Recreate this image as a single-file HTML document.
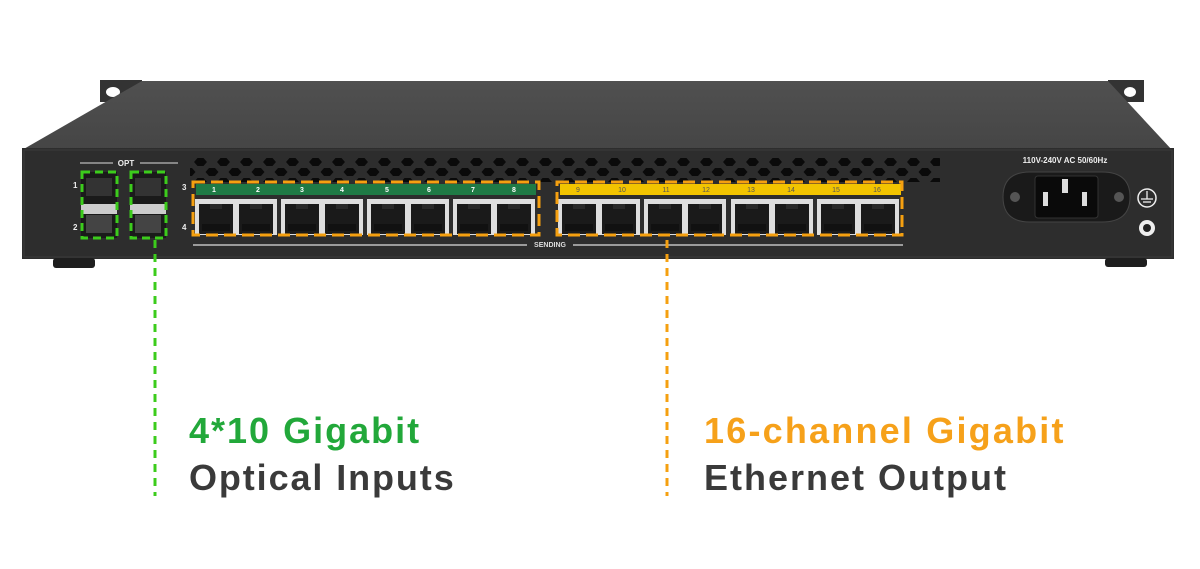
<!DOCTYPE html>
<html><head><meta charset="utf-8"><style>
html,body{margin:0;padding:0;background:#fff;}
svg{display:block}
text{font-family:"Liberation Sans",sans-serif;}
</style></head><body>
<svg width="1200" height="569" viewBox="0 0 1200 569" xmlns="http://www.w3.org/2000/svg">
<defs>
<pattern id="hex" x="190" y="156" width="23" height="20" patternUnits="userSpaceOnUse">
<polygon points="4,6 7.5,2 13.5,2 17,6 13.5,10 7.5,10" fill="#0a0a0a"/>
<polygon points="15.5,16 19,12 25,12 28.5,16 25,20 19,20" fill="#0a0a0a"/>
<polygon points="-7.5,16 -4,12 2,12 5.5,16 2,20 -4,20" fill="#0a0a0a"/>
</pattern>
<linearGradient id="top" x1="0" y1="0" x2="0" y2="1"><stop offset="0" stop-color="#505050"/><stop offset="1" stop-color="#454545"/></linearGradient>
<g id="jack"><rect x="0" y="0" width="34" height="30" fill="#1a1a1a"/><rect x="11" y="0" width="12" height="5" fill="#2a2a2a"/><rect x="3" y="20" width="28" height="7" fill="#111"/></g>
<g id="blk"><rect x="0" y="0" width="82" height="36" fill="#dedede"/><use href="#jack" x="4" y="5"/><use href="#jack" x="44" y="5"/></g>
</defs>
<rect x="100" y="80" width="42" height="22" fill="#333"/><ellipse cx="113" cy="92" rx="7" ry="5" fill="#fff"/>
<rect x="1108" y="80" width="36" height="22" fill="#333"/><ellipse cx="1130" cy="92" rx="6" ry="5" fill="#fff"/>
<polygon points="22,150 142,81 1108,81 1172,150" fill="url(#top)"/>
<rect x="22" y="148" width="1152" height="111" fill="#2d2d2d"/>
<rect x="24" y="150" width="1148" height="107" fill="none" stroke="#3a3a3a"/>
<rect x="53" y="258" width="42" height="10" rx="3" fill="#1e1e1e"/>
<rect x="1105" y="258" width="42" height="9" rx="3" fill="#1e1e1e"/>
<rect x="190" y="156" width="750" height="26" fill="url(#hex)"/>
<line x1="80" y1="163" x2="113" y2="163" stroke="#ddd" stroke-width="1"/>
<line x1="140" y1="163" x2="178" y2="163" stroke="#ddd" stroke-width="1"/>
<text x="126" y="166" font-size="8" font-weight="bold" fill="#eee" text-anchor="middle">OPT</text>
<text x="73" y="188" font-size="8" font-weight="bold" fill="#eee">1</text>
<text x="73" y="230" font-size="8" font-weight="bold" fill="#eee">2</text>
<text x="182" y="190" font-size="8" font-weight="bold" fill="#eee">3</text>
<text x="182" y="230" font-size="8" font-weight="bold" fill="#eee">4</text>
<g>
<rect x="81" y="172" width="36" height="66" fill="#1a1a1a"/><rect x="81" y="204" width="36" height="10" fill="#ccc"/>
<rect x="130" y="172" width="36" height="66" fill="#1a1a1a"/><rect x="130" y="204" width="36" height="10" fill="#ccc"/>
<rect x="86" y="215" width="26" height="18" fill="#444"/><rect x="135" y="215" width="26" height="18" fill="#444"/>
<rect x="86" y="178" width="26" height="18" fill="#333"/><rect x="135" y="178" width="26" height="18" fill="#333"/>
</g>
<rect x="82" y="172" width="35" height="66" fill="none" stroke="#3ccc1c" stroke-width="3" stroke-dasharray="8,5"/>
<rect x="131" y="172" width="35" height="66" fill="none" stroke="#3ccc1c" stroke-width="3" stroke-dasharray="8,5"/>
<rect x="196" y="184" width="340" height="11" fill="#1f7a45"/>
<rect x="560" y="184" width="341" height="11" fill="#f2c400"/>
<g font-size="7" font-weight="bold" fill="#fff" text-anchor="middle">
<text x="214" y="192">1</text><text x="258" y="192">2</text><text x="302" y="192">3</text><text x="342" y="192">4</text><text x="387" y="192">5</text><text x="429" y="192">6</text><text x="473" y="192">7</text><text x="514" y="192">8</text></g>
<g font-size="7" fill="#555" text-anchor="middle">
<text x="578" y="192">9</text><text x="622" y="192">10</text><text x="666" y="192">11</text><text x="706" y="192">12</text><text x="751" y="192">13</text><text x="791" y="192">14</text><text x="836" y="192">15</text><text x="877" y="192">16</text></g>
<use href="#blk" x="195" y="199"/><use href="#blk" x="281" y="199"/><use href="#blk" x="367" y="199"/><use href="#blk" x="453" y="199"/>
<use href="#blk" x="558" y="199"/><use href="#blk" x="644" y="199"/><use href="#blk" x="731" y="199"/><use href="#blk" x="817" y="199"/>
<line x1="193" y1="245" x2="527" y2="245" stroke="#ddd" stroke-width="1.2"/>
<text x="550" y="247" font-size="7" font-weight="bold" fill="#ddd" text-anchor="middle">SENDING</text>
<line x1="573" y1="245" x2="903" y2="245" stroke="#ddd" stroke-width="1.2"/>
<rect x="193" y="182" width="346" height="53" fill="none" stroke="#f5a010" stroke-width="3" stroke-dasharray="12,6"/>
<rect x="557" y="182" width="345" height="53" fill="none" stroke="#f5a010" stroke-width="3" stroke-dasharray="12,6"/>
<text x="1065" y="163" font-size="8" font-weight="bold" fill="#eee" text-anchor="middle">110V-240V  AC  50/60Hz</text>
<path d="M1003,197 Q1003,172 1030,172 L1102,172 Q1130,172 1130,197 Q1130,222 1102,222 L1030,222 Q1003,222 1003,197Z" fill="#1a1a1a" stroke="#444"/>
<circle cx="1015" cy="197" r="5" fill="#555"/><circle cx="1119" cy="197" r="5" fill="#555"/>
<rect x="1035" y="176" width="63" height="42" rx="3" fill="#0a0a0a" stroke="#333"/>
<rect x="1062" y="179" width="6" height="14" fill="#ddd"/><rect x="1043" y="192" width="5" height="14" fill="#ddd"/><rect x="1082" y="192" width="5" height="14" fill="#ddd"/>
<circle cx="1147" cy="198" r="9" fill="none" stroke="#eee" stroke-width="1.5"/>
<line x1="1147" y1="191" x2="1147" y2="199" stroke="#eee" stroke-width="1.3"/><line x1="1141" y1="199" x2="1153" y2="199" stroke="#eee" stroke-width="1.3"/><line x1="1143" y1="202" x2="1151" y2="202" stroke="#eee" stroke-width="1.3"/>
<circle cx="1147" cy="228" r="8" fill="#eee"/><circle cx="1147" cy="228" r="4" fill="#222"/>
<line x1="155" y1="240" x2="155" y2="496" stroke="#3ccc1c" stroke-width="3" stroke-dasharray="8,6"/>
<line x1="667" y1="240" x2="667" y2="496" stroke="#f5a010" stroke-width="3" stroke-dasharray="8,6"/>
<text x="189" y="443" font-size="36" font-weight="bold" fill="#22a83a" letter-spacing="2">4*10 Gigabit</text>
<text x="189" y="490" font-size="36" font-weight="bold" fill="#3a3a3a" letter-spacing="1.9">Optical Inputs</text>
<text x="704" y="443" font-size="36" font-weight="bold" fill="#f6a11a" letter-spacing="2.2">16-channel Gigabit</text>
<text x="704" y="490" font-size="36" font-weight="bold" fill="#3a3a3a" letter-spacing="2">Ethernet Output</text>
</svg>
</body></html>
